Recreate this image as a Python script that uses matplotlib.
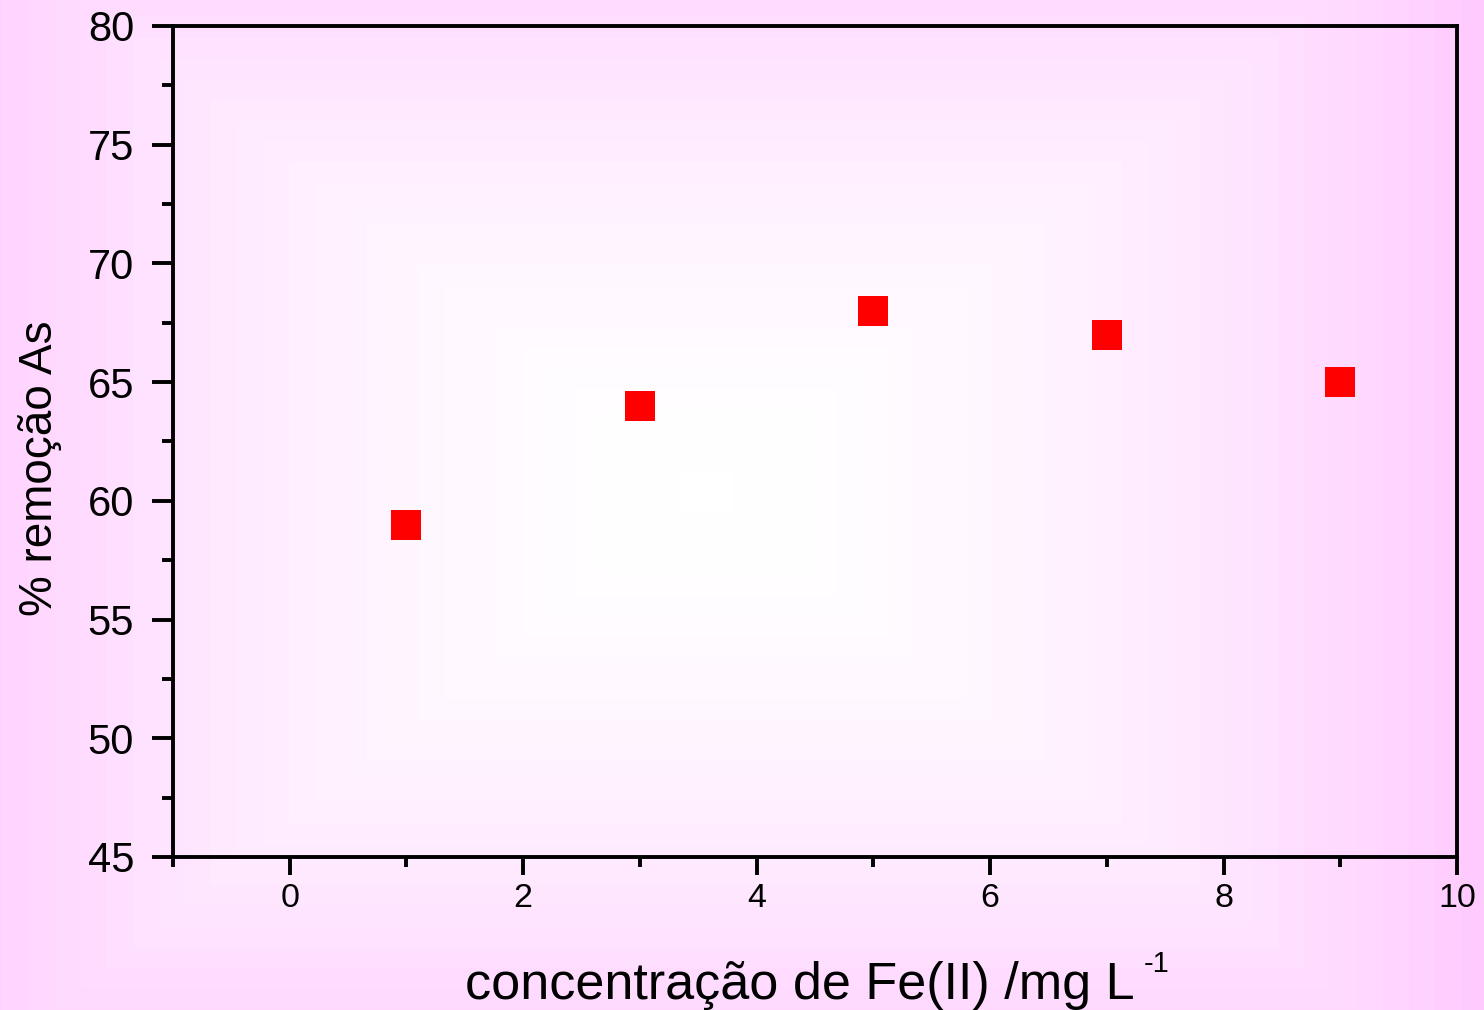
import numpy as np
import matplotlib
matplotlib.use("Agg")
import matplotlib.pyplot as plt
from matplotlib.ticker import MultipleLocator

plt.rcParams['font.family'] = ['Liberation Sans', 'DejaVu Sans']

# === dados ===
fe_conc = [1, 3, 5, 7, 9]              # mg/L
remocao_as = [59, 64, 68, 67, 65]      # %

x_label = "concentração de Fe(II) /mg L"
x_label_sup = "-1"
y_label = "% remoção As"

W, H, DPI = 1484, 1010, 100
fig = plt.figure(figsize=(W / DPI, H / DPI), dpi=DPI)

# --- fundo em degradê (branco no centro, rosa nas bordas) ---
bg = fig.add_axes([0, 0, 1, 1], zorder=-10)
yy, xx = np.mgrid[0:H, 0:W]
cx, cy = 705, 492
d = np.maximum(np.abs(xx - cx) / 1.26, np.abs(yy - cy)) / 620.0
d = np.clip(d, 0, 1)
d = np.floor(d * 30) / 30  # faixas discretas, bem suaves
t = d ** 1.8
pink = np.array([255, 200, 255]) / 255.0
white = np.array([1.0, 1.0, 1.0])
img = white[None, None, :] * (1 - t[..., None]) + pink[None, None, :] * t[..., None]
bg.imshow(img, aspect='auto', interpolation='nearest')
bg.axis('off')

ax = fig.add_axes([173 / W, 1 - 857 / H, (1457 - 173) / W, (857 - 26) / H])
ax.set_facecolor('none')

ax.plot(fe_conc, remocao_as, linestyle='none', marker='s', markersize=21.5,
        color='#ff0000', markeredgewidth=0)

ax.set_xlim(-1, 10)
ax.set_ylim(45, 80)
ax.xaxis.set_major_locator(MultipleLocator(2))
ax.xaxis.set_minor_locator(MultipleLocator(1))
ax.yaxis.set_major_locator(MultipleLocator(5))
ax.yaxis.set_minor_locator(MultipleLocator(2.5))

for s in ax.spines.values():
    s.set_linewidth(2.8)

ax.tick_params(axis='x', which='major', direction='out', length=13, width=2.8,
               labelsize=24.5, pad=6)
ax.tick_params(axis='x', which='minor', direction='out', length=7, width=2.8)
ax.tick_params(axis='y', which='major', direction='out', length=15, width=2.8,
               labelsize=30, pad=13)
ax.tick_params(axis='y', which='minor', direction='out', length=8, width=2.8)

ax.set_xlabel(x_label, fontsize=37.5)
ax.xaxis.label.set_va('baseline')
ax.xaxis.set_label_coords((800 - 173) / 1284, (857 - 999) / 831)

ax.set_ylabel(y_label, fontsize=33)
ax.yaxis.label.set_va('center')
ax.yaxis.set_label_coords((40 - 173) / 1284, (857 - 468) / 831)

# expoente do "L" logo após o rótulo do eixo x
fig.canvas.draw()
bb = ax.xaxis.label.get_window_extent(fig.canvas.get_renderer())
fig.text((bb.x1 + 9) / W, (H - 972) / H, x_label_sup, fontsize=21,
         ha='left', va='baseline')

fig.savefig("out.png", dpi=DPI)
